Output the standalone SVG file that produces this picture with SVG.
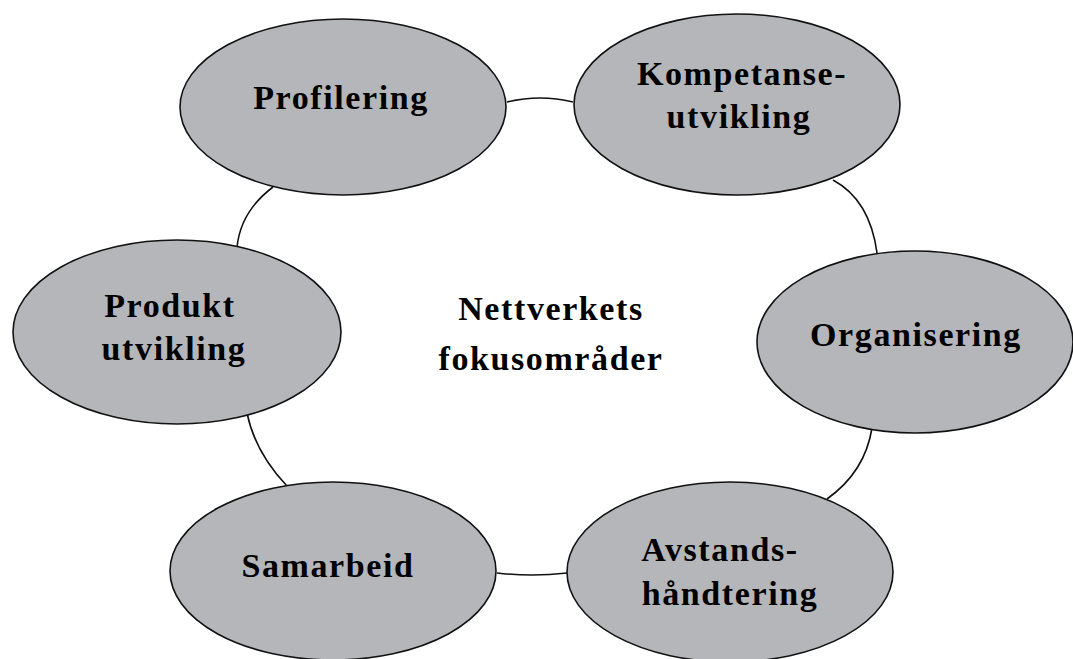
<svg xmlns="http://www.w3.org/2000/svg" width="1073" height="659" viewBox="0 0 1073 659">
<style>
.node ellipse{fill:#b5b6ba;stroke:#111;stroke-width:1.6}
.lbl{font-family:"Liberation Serif","Times New Roman",serif;font-weight:bold;font-size:34px;letter-spacing:1.6px;fill:#000;text-anchor:middle}
.conn path{fill:none;stroke:#111;stroke-width:1.6}
</style>
<rect width="1073" height="659" fill="#fff"/>
<g id="connectors" class="conn">
<path d="M507,102 Q540,94 573,102"/>
<path d="M833,180 Q870,200 877,253"/>
<path d="M872,428 Q865,472 827,499"/>
<path d="M567,573 Q532,577 497,573"/>
<path d="M287,486 Q255,452 247,413"/>
<path d="M237,248 Q240,212 273,187"/>
</g>
<g id="center">
<text class="lbl" x="551" y="320">Nettverkets</text>
<text class="lbl" x="551" y="370">fokusområder</text>
</g>
<g id="profilering" class="node">
<ellipse cx="343" cy="107" rx="163" ry="88"/>
<text class="lbl" x="341" y="109">Profilering</text>
</g>
<g id="kompetanse" class="node">
<ellipse cx="737" cy="104.5" rx="163" ry="90.5"/>
<text class="lbl" x="742" y="85">Kompetanse-</text>
<text class="lbl" x="739" y="128">utvikling</text>
</g>
<g id="organisering" class="node">
<ellipse cx="915" cy="342" rx="158" ry="91"/>
<text class="lbl" x="916" y="346">Organisering</text>
</g>
<g id="avstands" class="node">
<ellipse cx="730" cy="572" rx="163" ry="90"/>
<text class="lbl" x="720" y="561">Avstands-</text>
<text class="lbl" x="730" y="605">håndtering</text>
</g>
<g id="samarbeid" class="node">
<ellipse cx="333" cy="571" rx="163" ry="89"/>
<text class="lbl" x="328" y="577">Samarbeid</text>
</g>
<g id="produkt" class="node">
<ellipse cx="177" cy="332" rx="164" ry="92"/>
<text class="lbl" x="170" y="317">Produkt</text>
<text class="lbl" x="174" y="360">utvikling</text>
</g>
</svg>
